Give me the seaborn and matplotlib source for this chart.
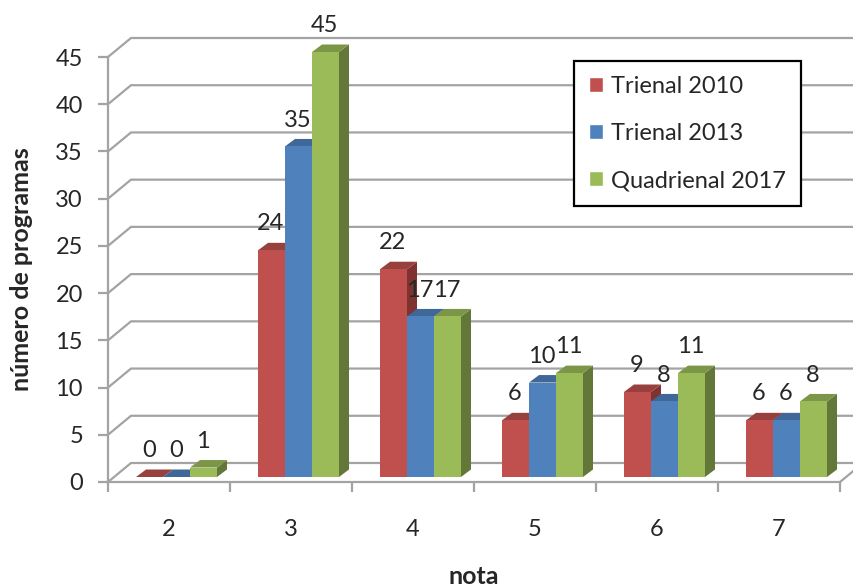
import matplotlib
matplotlib.use("Agg")
import matplotlib.pyplot as plt
from matplotlib.patches import Polygon
import numpy as np
import pandas as pd
import seaborn as sns

# ===== data =====
notas = ['2', '3', '4', '5', '6', '7']
series = ['Trienal 2010', 'Trienal 2013', 'Quadrienal 2017']
trienal_2010 = [0, 24, 22, 6, 9, 6]
trienal_2013 = [0, 35, 17, 10, 8, 6]
quadrienal_2017 = [1, 45, 17, 11, 11, 8]
y_ticks = [0, 5, 10, 15, 20, 25, 30, 35, 40, 45]

front_colors = ['#C0504D', '#4F81BD', '#9BBB59']
top_colors = ['#97403D', '#3F6797', '#7C9647']
side_colors = ['#7F3331', '#34557E', '#637838']
GRID = '#A3A3A3'
TEXT = '#262626'

df = pd.DataFrame({
    'nota': notas * 3,
    'serie': np.repeat(series, len(notas)),
    'programas': trienal_2010 + trienal_2013 + quadrienal_2017,
})

sns.set_theme(style='white')
plt.rcParams['font.family'] = ['Lato', 'DejaVu Sans']

W, H = 854, 588
fig = plt.figure(figsize=(W / 100, H / 100), dpi=100)
ax = fig.add_axes([108 / W, 1 - 482 / H, 732 / W, 425 / H])

sns.barplot(data=df, x='nota', y='programas', hue='serie', hue_order=series,
            order=notas, palette=front_colors, saturation=1, width=0.664,
            gap=0, ax=ax)

ax.set_xlim(-0.5, 5.5)
ax.set_ylim(0, 45)

# pixel sizes in data units
px_x = 1 / 122
px_y = 45 / 425

# ----- back wall and floor -----
wall_dx, wall_dy = 23 * px_x, 19 * px_y
for tick in y_ticks:
    ax.plot([-0.5, -0.5 + wall_dx, 5.5 + wall_dx], [tick, tick + wall_dy, tick + wall_dy],
            color=GRID, lw=1.6, clip_on=False, zorder=1, solid_joinstyle='miter')
ax.plot([5.5, 5.5 + wall_dx], [0, wall_dy], color=GRID, lw=1.6, clip_on=False, zorder=1)

# ----- 3d bars: shift the fronts, add top and side faces -----
shift_x, shift_y = 7.5 * px_x, 5 * px_y
depth_x, depth_y = 10 * px_x, 7.5 * px_y

for i, container in enumerate(ax.containers):
    z = 3 + i
    for patch in container.patches:
        x0 = patch.get_x() + shift_x
        w = patch.get_width()
        h = patch.get_height()
        patch.set_x(x0)
        patch.set_y(shift_y)
        patch.set_clip_on(False)
        patch.set_linewidth(0)
        patch.set_zorder(z + 0.2)
        top = shift_y + h
        ax.add_patch(Polygon([(x0, top), (x0 + w, top), (x0 + w + depth_x, top + depth_y),
                              (x0 + depth_x, top + depth_y)],
                             facecolor=top_colors[i], lw=0, clip_on=False, zorder=z + 0.1))
        ax.add_patch(Polygon([(x0 + w, shift_y), (x0 + w + depth_x, shift_y + depth_y),
                              (x0 + w + depth_x, top + depth_y), (x0 + w, top)],
                             facecolor=side_colors[i], lw=0, clip_on=False, zorder=z))
        ax.annotate(f'{h:.0f}', (x0 + w / 2, top), xytext=(-0.5, 19), textcoords='offset points',
                    ha='center', va='center', fontsize=17, color=TEXT, zorder=10,
                    annotation_clip=False)

# ----- axes -----
sns.despine(ax=ax, top=True, right=True)
for side in ['left', 'bottom']:
    ax.spines[side].set_color(GRID)
    ax.spines[side].set_linewidth(1.6)
    ax.spines[side].set_zorder(2)

ax.set_yticks(y_ticks)
ax.set_xticks(np.arange(-0.5, 6, 1))
ax.set_xticklabels([])
ax.set_xticks(np.arange(len(notas)), labels=notas, minor=True)
ax.tick_params(axis='both', which='major', color=GRID, width=1.6, length=7,
               left=True, bottom=True, labelsize=17, labelcolor=TEXT)
ax.tick_params(axis='y', pad=11)
ax.tick_params(axis='x', which='minor', length=0, labelsize=17, labelcolor=TEXT, pad=27, bottom=False)

ax.set_xlabel('nota', fontsize=18, fontweight='bold', color=TEXT, va='center')
ax.set_ylabel('número de programas', fontsize=18, fontweight='bold', color=TEXT, va='center')
ax.xaxis.set_label_coords(0.5, -(577 - 482) / 425, transform=ax.transAxes)
ax.yaxis.set_label_coords((22 - 108) / 732, 0.5, transform=ax.transAxes)

# ----- legend box -----
handles, labels = ax.get_legend_handles_labels()
legend = ax.legend(handles, labels, loc='upper left',
                   bbox_to_anchor=((574 - 108) / 732, 1 - (61 - 57) / 425),
                   borderaxespad=0, fontsize=17, frameon=True, fancybox=False,
                   edgecolor='black', framealpha=1, handlelength=0.6, handleheight=0.6,
                   handletextpad=0.36, labelspacing=1.115, borderpad=0.62, labelcolor=TEXT)
legend.get_frame().set_linewidth(1.6)
legend.set_zorder(20)

fig.savefig('out.png', dpi=100, facecolor='white')
